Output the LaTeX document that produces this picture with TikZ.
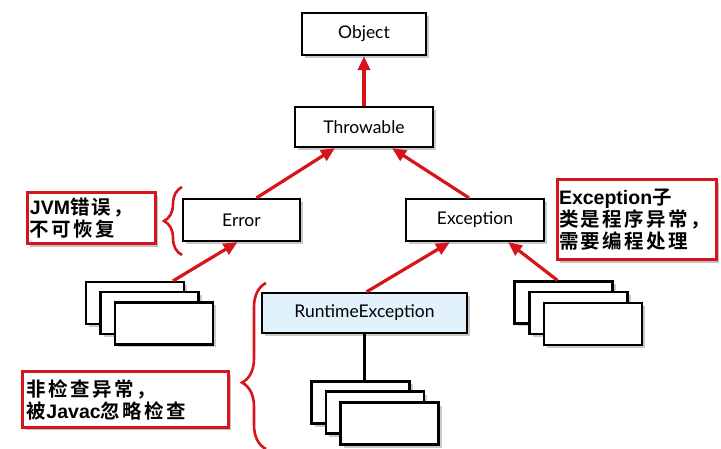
\documentclass[tikz,border=0pt]{standalone}
\usepackage{fontspec}
\setmainfont{Lato}
\newfontfamily\cjk[LetterSpace=12]{Noto Sans CJK SC Bold}
\newfontfamily\lat{Liberation Sans Bold}
\usetikzlibrary{shadows,arrows.meta,decorations.pathreplacing}
\definecolor{arrred}{RGB}{215,20,25}
\definecolor{rtfill}{RGB}{226,242,252}
\tikzset{
  cls/.style={draw=black, line width=2.2pt, fill=white, inner sep=0pt,
    font=\fontsize{17.5}{20}\selectfont,
    drop shadow={shadow xshift=3pt, shadow yshift=-3pt, fill=black!35, opacity=0.6}},
  stackbox/.style={cls, minimum width=98pt, minimum height=42pt},
  callout/.style={draw=arrred, line width=3pt, fill=white, inner sep=0pt,
    align=left, font=\cjk\fontsize{19.5}{22}\selectfont,
    drop shadow={shadow xshift=3pt, shadow yshift=-3pt, fill=black!40, opacity=0.6}},
  inherit/.style={draw=arrred, line width=3.2pt, -{Triangle[length=14pt,width=12pt]}},
  plain/.style={draw=black, line width=2.2pt},
  bracestyle/.style={draw=arrred, line width=2.6pt, decorate}
}
\begin{document}
\begin{tikzpicture}[x=1pt,y=-1pt]
\useasboundingbox (0,0) rectangle (721,449);
% class boxes
\node[cls, minimum width=124pt, minimum height=42pt] (obj) at (364,34) {Object};
\node[cls, minimum width=138pt, minimum height=40pt] (thr) at (364,127) {Throwable};
\node[cls, minimum width=117pt, minimum height=42pt] (err) at (241.5,220) {Error};
\node[cls, minimum width=138pt, minimum height=42pt] (exc) at (475,220) {Exception};
\node[cls, fill=rtfill, minimum width=205pt, minimum height=40pt] (rte) at (364.5,313) {RuntimeException};
% left stack
\node[stackbox] (l1) at (135,303) {};
\node[stackbox] (l2) at (149.5,313) {};
\node[stackbox] (l3) at (164,323.5) {};
% right stack
\node[stackbox] (r1) at (563.5,302.5) {};
\node[stackbox] (r2) at (578.5,313) {};
\node[stackbox] (r3) at (593,324) {};
% bottom stack
\node[stackbox] (b1) at (360.5,402.5) {};
\node[stackbox] (b2) at (375,412.5) {};
\node[stackbox] (b3) at (389.5,423.5) {};
% connectors
\draw[plain] (rte.south) -- (rte.south |- b1.north);
\draw[inherit] (thr.north) -- (obj.south);
\draw[inherit] ([xshift=15pt]err.north) -- ([xshift=-29pt]thr.south);
\draw[inherit] ([xshift=-6pt]exc.north) -- ([xshift=28pt]thr.south);
\draw[inherit] ([xshift=38pt]l1.north) -- ([xshift=-4pt]err.south);
\draw[inherit] ([xshift=2pt]rte.north) -- ([xshift=-25pt]exc.south);
\draw[inherit] ([xshift=-6pt]r1.north) -- ([xshift=33pt]exc.south);
% callouts
\node[callout, minimum width=128pt, minimum height=51pt, text width=122pt] (c1) at (91,218.5) {{\lat JVM}错误，\\不可恢复};
\node[callout, minimum width=159pt, minimum height=80pt, text width=155pt] (c2) at (636.5,220) {{\lat Exception}子\\类是程序异常，\\需要编程处理};
\node[callout, minimum width=206pt, minimum height=55pt, text width=196pt] (c3) at (125,399.5) {非检查异常，\\被{\lat Javac}忽略检查};
% braces
\coordinate (sb1) at (182,255);
\coordinate (sb2) at (182,187);
\draw[bracestyle, decoration={brace, amplitude=18pt}] (sb1) -- (sb2);
\coordinate (bb1) at (266,449);
\coordinate (bb2) at (266,283);
\draw[bracestyle, decoration={brace, amplitude=24pt, aspect=0.40}] (bb1) -- (bb2);
\end{tikzpicture}
\end{document}
